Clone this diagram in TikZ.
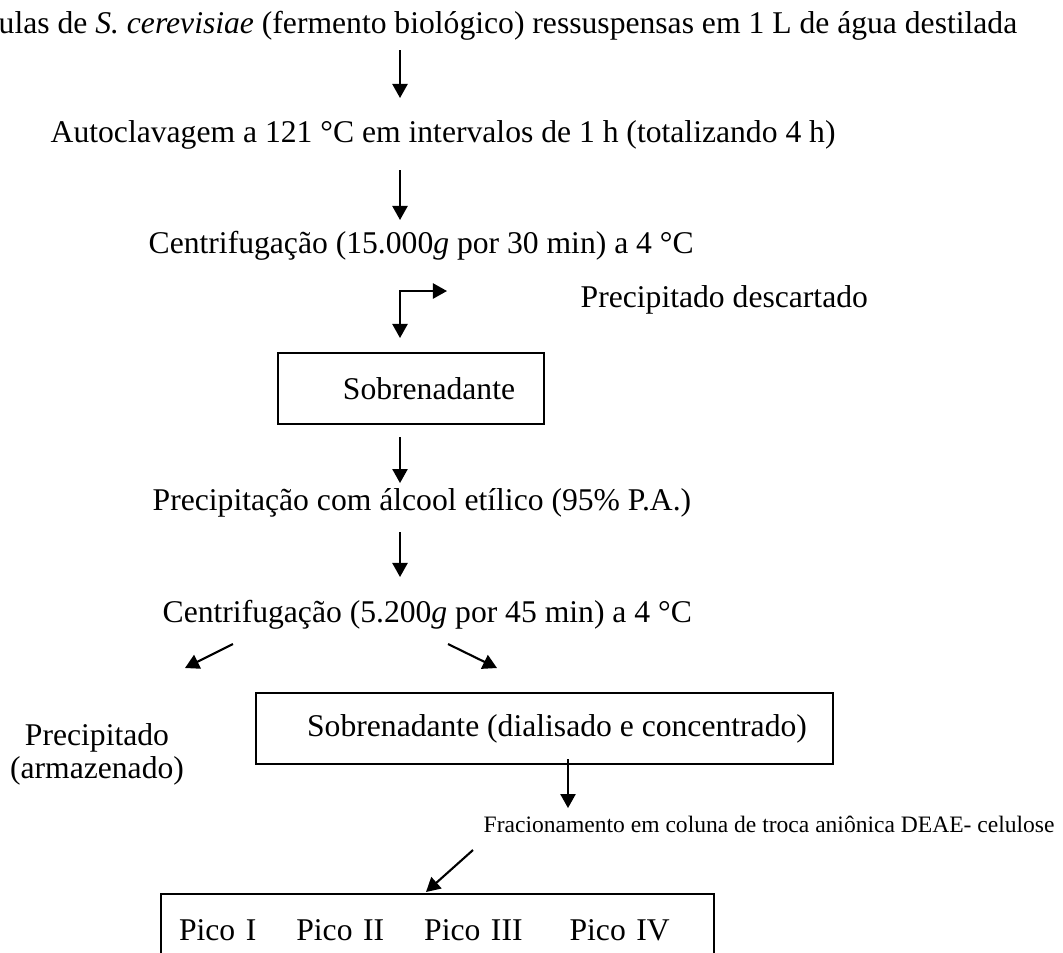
\documentclass[tikz,border=0pt]{standalone}
\usepackage{fontspec}
\setmainfont{Liberation Serif}
\usetikzlibrary{calc}
\usetikzlibrary{arrows.meta}
\tikzset{
	seta/.style={line width=.6pt,-{Triangle[length=4pt,width=4.3pt]}},
	setadupla/.style={line width=.6pt,{Triangle[length=4pt,width=4.3pt]}-{Triangle[length=4pt,width=4.3pt]}},
	passo/.style={inner sep=0pt},
	caixa/.style={draw,line width=.6pt,inner sep=0pt},
}

\begin{document}
\begin{tikzpicture}[font=\fontsize{9}{10.5}\selectfont]
	\clip (0,0) rectangle (10.63,-9.52);
	\coordinate (eixo) at (4,0);
	\node[passo,anchor=base east] at (10.18,-.33) (cel) {Células de \textit{S. cerevisiae} (fermento biológico) ressuspensas em 1 L de água destilada};
	\node[passo,anchor=base west] at (.50,-1.42) (auto) {Autoclavagem a 121 °C em intervalos de 1 h (totalizando 4 h)};
	\node[passo,anchor=base west] at (1.48,-2.53) (cent1) {Centrifugação (15.000\textit{g} por 30 min) a 4 °C};
	\node[passo,anchor=base west] at (5.80,-3.07) (desc) {Precipitado descartado};
	\node[caixa,minimum width=2.66cm,minimum height=.71cm] at (4.11,-3.885) (sob1) {\hspace*{.36cm}Sobrenadante};
	\node[passo,anchor=base west] at (1.52,-5.10) (etanol) {Precipitação com álcool etílico (95\% P.A.)};
	\node[passo,anchor=base west] at (1.62,-6.22) (cent2) {Centrifugação (5.200\textit{g} por 45 min) a 4 °C};
	\node[passo,align=center,font=\fontsize{9}{9.4}\selectfont] at (.97,-7.54) (arm) {Precipitado\\(armazenado)};
	\node[caixa,minimum width=5.77cm,minimum height=.71cm] at (5.445,-7.285) (sob2) {\hspace*{.25cm}Sobrenadante (dialisado e concentrado)};
	\node[passo,anchor=base west,font=\fontsize{6.7}{8}\selectfont] at (4.83,-8.32) (frac) {Fracionamento em coluna de troca aniônica DEAE- celulose};
	\node[caixa,anchor=north west,inner xsep=.18cm,inner ysep=.25cm,text width=5.17cm,align=left,text depth=.5cm] at (1.60,-8.93) (picos) {Pico I\hspace{.40cm}Pico II\hspace{.40cm}Pico III\hspace{.47cm}Pico IV};
	% setas
	\draw[seta] (cel.base -| eixo) ++(0,-.17) -- ++(0,-.48);
	\draw[seta] (auto.base -| eixo) ++(0,-.28) -- ++(0,-.50);
	\draw[setadupla] ($(cent1.base -| eixo)+(.47,-.38)$) -- ($(cent1.base -| eixo)+(0,-.38)$) -- ++(0,-.47);
	\draw[seta] (sob1.south -| eixo) ++(0,-.12) -- ++(0,-.46);
	\draw[seta] (etanol.base -| eixo) ++(0,-.22) -- ++(0,-.45);
	\draw[seta] ($(cent2.base west)+(.71,-.22)$) -- ++(-.48,-.24);
	\draw[seta] ($(cent2.base west)+(2.86,-.22)$) -- ++(.49,-.24);
	\draw[seta] ($(sob2.south)+(.235,.06)$) -- ++(0,-.49);
	\draw[seta] ($(frac.base west)+(-.10,-.18)$) -- ++(-.47,-.42);
\end{tikzpicture}
\end{document}
